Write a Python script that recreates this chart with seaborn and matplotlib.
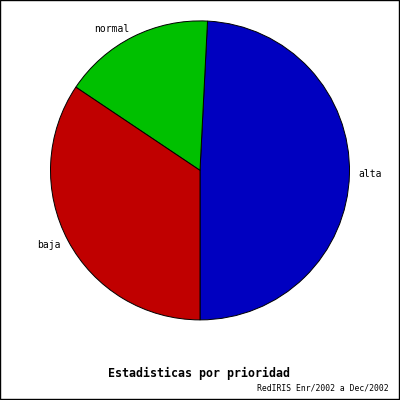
import matplotlib
matplotlib.use('Agg')
import matplotlib.pyplot as plt
import seaborn as sns
from matplotlib.patches import Rectangle

sns.set_style('white')
plt.rcParams['font.family'] = ['DejaVu Sans Mono', 'DejaVu Sans']
plt.rcParams['text.color'] = 'black'

# Datos (porcentaje por prioridad)
prioridades = ['alta', 'normal', 'baja']
valores = [49.2, 16.4, 34.4]
colores = ['#0000c0', '#00c000', '#c00000']

titulo = 'Estadisticas por prioridad'
subtitulo = 'RedIRIS Enr/2002 a Dec/2002'

fig = plt.figure(figsize=(4, 4), dpi=100)
fig.patch.set_facecolor('white')

# marco negro alrededor de la imagen
fig.patches.append(Rectangle((0.0012, 0.0037), 0.9951, 0.9951, transform=fig.transFigure,
                             fill=False, edgecolor='black', linewidth=1.0))

ax = fig.add_axes([0.5 - 0.37375, 0.574 - 0.37375, 0.7475, 0.7475])
wedges, texts = ax.pie(valores, labels=prioridades, colors=colores,
                       startangle=-90, counterclock=True, labeldistance=1.06,
                       wedgeprops={'edgecolor': 'black', 'linewidth': 0.7},
                       textprops={'fontsize': 7, 'color': 'black'})
for t in texts:
    t.set_clip_on(False)
ax.set_xlim(-1, 1)
ax.set_ylim(-1, 1)
ax.set_aspect('equal')
ax.axis('off')

fig.text(0.4975, 0.0675, titulo, ha='center', va='center',
         fontsize=8.4, fontweight='bold', color='black')
fig.text(0.9725, 0.031, subtitulo, ha='right', va='center', fontsize=5.9,
         color='black')

fig.savefig('out.png', dpi=100)
